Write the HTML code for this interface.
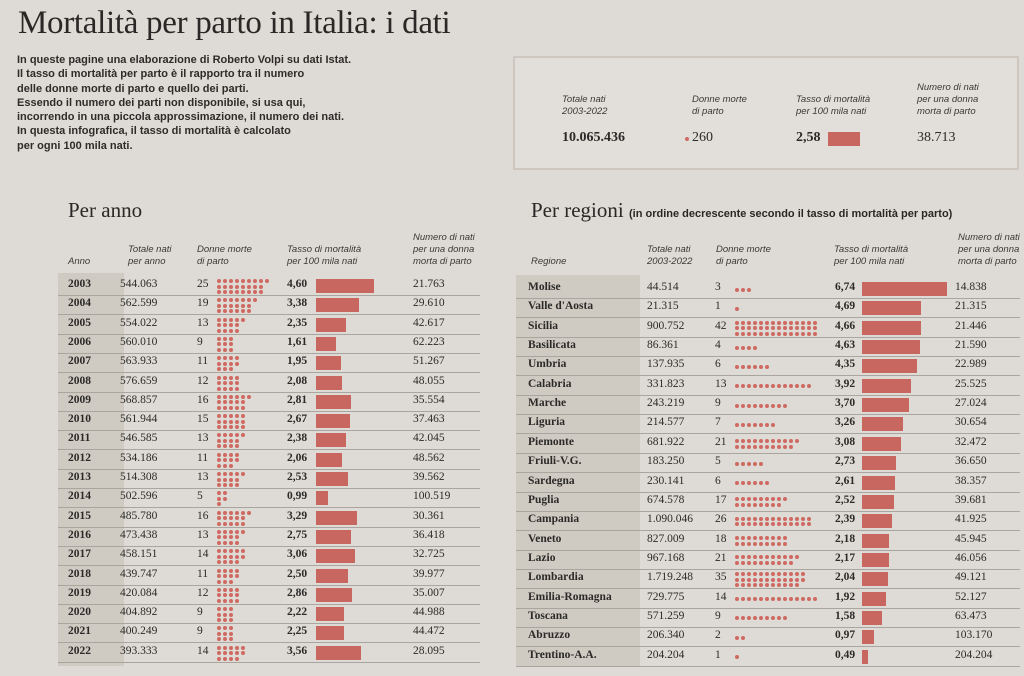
<!DOCTYPE html>
<html><head><meta charset="utf-8">
<style>
body{margin:0;width:1024px;height:676px;background:#dedbd6;position:relative;overflow:hidden;font-family:"Liberation Serif",serif;color:#2b2a28}
.a{position:absolute;white-space:nowrap}
h1{position:absolute;left:18px;top:5px;margin:0;font:400 33px "Liberation Serif",serif;color:#2a2826;letter-spacing:-0.3px}
.intro{position:absolute;left:17px;top:53px;font:bold 11px/14.3px "Liberation Sans",sans-serif;color:#2d2c2a}
.box{position:absolute;left:513px;top:56px;width:502px;height:110px;border:2px solid #cdc7bf;background:#e2dfda}
.lab{font:italic 9.5px/12px "Liberation Sans",sans-serif;color:#3a3936}
.h2{font:400 21px "Liberation Serif",serif;color:#2a2826}
.shade{position:absolute;background:#d0cbc2}
.b{font-weight:bold}
.bar{position:absolute;background:#c7675f;height:14px}
.dot{position:absolute;width:4px;height:4px;border-radius:50%;background:#cf6a62}
</style></head><body>
<h1>Mortalità per parto in Italia: i dati</h1>
<div class="intro">In queste pagine una elaborazione di Roberto Volpi su dati Istat.<br>Il tasso di mortalità per parto è il rapporto tra il numero<br>delle donne morte di parto e quello dei parti.<br>Essendo il numero dei parti non disponibile, si usa qui,<br>incorrendo in una piccola approssimazione, il numero dei nati.<br>In questa infografica, il tasso di mortalità è calcolato<br>per ogni 100 mila nati.</div>
<div class="box"></div>
<div class="a lab" style="left:562px;top:94px">Totale nati<br>2003-2022</div>
<div class="a lab" style="left:692px;top:94px">Donne morte<br>di parto</div>
<div class="a lab" style="left:796px;top:94px">Tasso di mortalità<br>per 100 mila nati</div>
<div class="a lab" style="left:917px;top:82px">Numero di nati<br>per una donna<br>morta di parto</div>
<div class="a b" style="left:562px;top:130px;font-size:14px">10.065.436</div>
<div class="dot" style="left:685px;top:137px"></div>
<div class="a" style="left:692px;top:130px;font-size:14px">260</div>
<div class="a b" style="left:796px;top:130px;font-size:14px">2,58</div>
<div class="bar" style="left:828px;top:132px;width:32px"></div>
<div class="a" style="left:917px;top:130px;font-size:14px">38.713</div>

<div class="a h2" style="left:68px;top:198px">Per anno</div>
<div class="a h2" style="left:531px;top:198px">Per regioni <span style="font:bold 11px 'Liberation Sans',sans-serif">(in ordine decrescente secondo il tasso di mortalità per parto)</span></div>

<div class="shade" style="left:58px;top:273px;width:66px;height:393px"></div>
<div class="shade" style="left:516px;top:275px;width:124px;height:392px"></div>

<div class="a lab" style="left:68px;top:256px">Anno</div>
<div class="a lab" style="left:128px;top:244px">Totale nati<br>per anno</div>
<div class="a lab" style="left:197px;top:244px">Donne morte<br>di parto</div>
<div class="a lab" style="left:287px;top:244px">Tasso di mortalità<br>per 100 mila nati</div>
<div class="a lab" style="left:413px;top:232px">Numero di nati<br>per una donna<br>morta di parto</div>

<div class="a lab" style="left:531px;top:256px">Regione</div>
<div class="a lab" style="left:647px;top:244px">Totale nati<br>2003-2022</div>
<div class="a lab" style="left:716px;top:244px">Donne morte<br>di parto</div>
<div class="a lab" style="left:834px;top:244px">Tasso di mortalità<br>per 100 mila nati</div>
<div class="a lab" style="left:958px;top:232px">Numero di nati<br>per una donna<br>morta di parto</div>

<div id="L"></div>
<script>
var Y=[["2003","544.063",25,"4,60","21.763"],["2004","562.599",19,"3,38","29.610"],["2005","554.022",13,"2,35","42.617"],["2006","560.010",9,"1,61","62.223"],["2007","563.933",11,"1,95","51.267"],["2008","576.659",12,"2,08","48.055"],["2009","568.857",16,"2,81","35.554"],["2010","561.944",15,"2,67","37.463"],["2011","546.585",13,"2,38","42.045"],["2012","534.186",11,"2,06","48.562"],["2013","514.308",13,"2,53","39.562"],["2014","502.596",5,"0,99","100.519"],["2015","485.780",16,"3,29","30.361"],["2016","473.438",13,"2,75","36.418"],["2017","458.151",14,"3,06","32.725"],["2018","439.747",11,"2,50","39.977"],["2019","420.084",12,"2,86","35.007"],["2020","404.892",9,"2,22","44.988"],["2021","400.249",9,"2,25","44.472"],["2022","393.333",14,"3,56","28.095"]];
var R=[["Molise","44.514",3,"6,74","14.838"],["Valle d'Aosta","21.315",1,"4,69","21.315"],["Sicilia","900.752",42,"4,66","21.446"],["Basilicata","86.361",4,"4,63","21.590"],["Umbria","137.935",6,"4,35","22.989"],["Calabria","331.823",13,"3,92","25.525"],["Marche","243.219",9,"3,70","27.024"],["Liguria","214.577",7,"3,26","30.654"],["Piemonte","681.922",21,"3,08","32.472"],["Friuli-V.G.","183.250",5,"2,73","36.650"],["Sardegna","230.141",6,"2,61","38.357"],["Puglia","674.578",17,"2,52","39.681"],["Campania","1.090.046",26,"2,39","41.925"],["Veneto","827.009",18,"2,18","45.945"],["Lazio","967.168",21,"2,17","46.056"],["Lombardia","1.719.248",35,"2,04","49.121"],["Emilia-Romagna","729.775",14,"1,92","52.127"],["Toscana","571.259",9,"1,58","63.473"],["Abruzzo","206.340",2,"0,97","103.170"],["Trentino-A.A.","204.204",1,"0,49","204.204"]];
var h="";
function sp(x,y,t,c){return '<div class="a '+(c||"")+'" style="left:'+x+'px;top:'+y+'px;font-size:11.5px">'+t+'</div>';}
Y.forEach(function(r,i){var y=277+i*19.3;
h+='<div class="a" style="left:58px;width:422px;top:'+(y+18)+'px;border-top:1px solid #aaa69f"></div>';
h+=sp(68,y+1,r[0],"b")+sp(120,y+1,r[1])+sp(197,y+1,r[2]);
var n=r[2];for(var k=0;k<n;k++){var c=Math.floor(k/3),rr=k%3;h+='<div class="dot" style="left:'+(217+c*6)+'px;top:'+(y+2+rr*5.5)+'px"></div>';}
h+=sp(287,y+1,r[3],"b");var v=parseFloat(r[3].replace(",","."));h+='<div class="bar" style="left:316px;top:'+(y+2)+'px;width:'+(v*12.6)+'px"></div>';
h+=sp(413,y+1,r[4]);});
R.forEach(function(r,i){var y=280+i*19.35;
h+='<div class="a" style="left:516px;width:504px;top:'+(y+18)+'px;border-top:1px solid #aaa69f"></div>';
h+=sp(528,y+1,r[0],"b")+sp(647,y+1,r[1])+sp(715,y+1,r[2]);
var n=r[2],rows=n<=14?1:(n<=28?2:3),cols=Math.ceil(n/rows);for(var k=0;k<n;k++){var c=k%cols,rr=Math.floor(k/cols);var yo=rows==1?7.5:(rows==2?4.5:2);h+='<div class="dot" style="left:'+(735+c*6)+'px;top:'+(y+yo+rr*5.5)+'px"></div>';}
h+=sp(835,y+1,r[3],"b");var v=parseFloat(r[3].replace(",","."));h+='<div class="bar" style="left:862px;top:'+(y+2)+'px;width:'+(v*12.6)+'px"></div>';
h+=sp(955,y+1,r[4]);});
document.getElementById("L").innerHTML=h;
</script>
</body></html>
